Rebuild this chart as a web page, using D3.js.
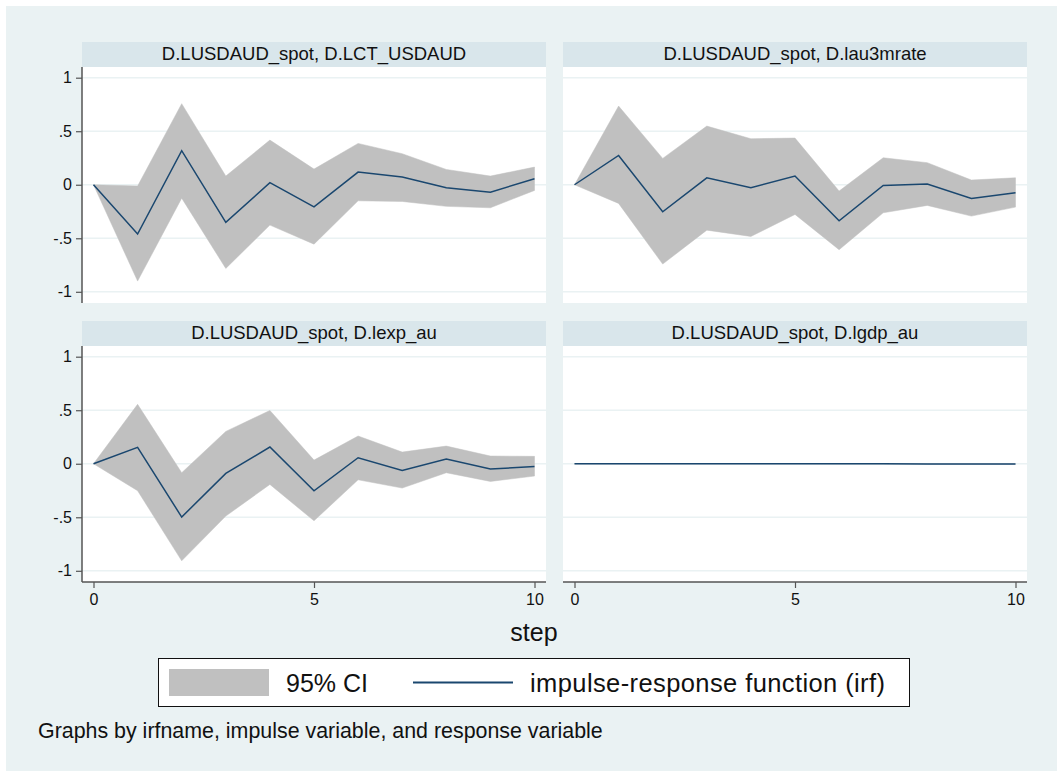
<!DOCTYPE html>
<html>
<head>
<meta charset="utf-8">
<script src="https://cdn.jsdelivr.net/npm/d3@7"></script>
<style>
  html, body { margin: 0; padding: 0; background: #ffffff; }
  svg { display: block; font-family: "Liberation Sans", Arial, Helvetica, sans-serif; }
</style>
</head>
<body>
<svg id="chart" width="1057" height="771"></svg>
<script>
// ---------------- DATA ----------------
const steps = [0, 1, 2, 3, 4, 5, 6, 7, 8, 9, 10];
const panelTitles = [
  "D.LUSDAUD_spot, D.LCT_USDAUD",
  "D.LUSDAUD_spot, D.lau3mrate",
  "D.LUSDAUD_spot, D.lexp_au",
  "D.LUSDAUD_spot, D.lgdp_au"
];
const irfLCT   = [0, -0.46, 0.318, -0.352, 0.019, -0.206, 0.118, 0.072, -0.028, -0.069, 0.056];
const upperLCT = [0, -0.012, 0.757, 0.081, 0.417, 0.146, 0.386, 0.29, 0.143, 0.081, 0.165];
const lowerLCT = [0, -0.90, -0.125, -0.782, -0.377, -0.555, -0.15, -0.156, -0.202, -0.215, -0.053];

const irfRate   = [0, 0.274, -0.252, 0.065, -0.028, 0.081, -0.336, -0.006, 0.006, -0.128, -0.075];
const upperRate = [0, 0.735, 0.246, 0.548, 0.43, 0.436, -0.059, 0.252, 0.206, 0.044, 0.065];
const lowerRate = [0, -0.174, -0.741, -0.424, -0.483, -0.277, -0.607, -0.262, -0.193, -0.293, -0.209];

const irfExp   = [0, 0.153, -0.498, -0.09, 0.156, -0.252, 0.056, -0.062, 0.044, -0.05, -0.025];
const upperExp = [0, 0.555, -0.084, 0.302, 0.498, 0.034, 0.259, 0.109, 0.165, 0.072, 0.069];
const lowerExp = [0, -0.252, -0.907, -0.489, -0.193, -0.533, -0.15, -0.227, -0.084, -0.165, -0.115];

const irfGdp   = [0, 0, 0, 0, 0, 0, -0.001, -0.001, -0.002, -0.002, -0.002];
const upperGdp = [0, 0, 0, 0, 0, 0, -0.001, -0.001, -0.002, -0.002, -0.002];
const lowerGdp = [0, 0, 0, 0, 0, 0, -0.001, -0.001, -0.002, -0.002, -0.002];

const yTickValues = [-1, -0.5, 0, 0.5, 1];
const xTickValues = [0, 5, 10];
const legendLabels = ["95% CI", "impulse-response function (irf)"];
const xTitle = "step";
const note = "Graphs by irfname, impulse variable, and response variable";

// ---------------- LAYOUT ----------------
const svg = d3.select("#chart");
const BG = "#eaf2f3", STRIP = "#d9e6eb", CI = "#c0c0c0", LINE = "#1a476f", AXIS = "#555555";

svg.append("rect").attr("x", 6).attr("y", 6).attr("width", 1051).attr("height", 765).attr("fill", BG);

const panels = [
  { title: panelTitles[0], irf: irfLCT, up: upperLCT, lo: lowerLCT, col: 0, row: 0 },
  { title: panelTitles[1], irf: irfRate, up: upperRate, lo: lowerRate, col: 1, row: 0 },
  { title: panelTitles[2], irf: irfExp, up: upperExp, lo: lowerExp, col: 0, row: 1 },
  { title: panelTitles[3], irf: irfGdp, up: upperGdp, lo: lowerGdp, col: 1, row: 1 }
];
const colLeft = [82, 563], colWidth = 464;
const rowHeaderTop = [42, 321], headerH = 25, plotH = 236;

const fmt = d => d === 0 ? "0" : String(d).replace(/^(-?)0\./, "$1.");

panels.forEach(p => {
  const L = colLeft[p.col];
  const hTop = rowHeaderTop[p.row];
  const pTop = hTop + headerH;
  const g = svg.append("g");

  // header strip
  g.append("rect").attr("x", L).attr("y", hTop).attr("width", colWidth).attr("height", headerH).attr("fill", STRIP);
  g.append("text").attr("x", L + colWidth / 2).attr("y", hTop + 17.5)
    .attr("text-anchor", "middle").attr("font-size", 18.5).attr("fill", "#111")
    .text(p.title);

  // plot region
  g.append("rect").attr("x", L).attr("y", pTop).attr("width", colWidth).attr("height", plotH).attr("fill", "#ffffff");

  const x = d3.scaleLinear().domain([0, 10]).range([L + 11.5, L + 452.5]);
  const y = d3.scaleLinear().domain([-1, 1]).range([pTop + 224.8, pTop + 10.7]);

  // grid lines
  g.selectAll(".grid").data(yTickValues).enter().append("line")
    .attr("x1", L).attr("x2", L + colWidth)
    .attr("y1", d => y(d)).attr("y2", d => y(d))
    .attr("stroke", BG).attr("stroke-width", 1.5);

  const data = steps.map((s, i) => ({ s, irf: p.irf[i], up: p.up[i], lo: p.lo[i] }));

  g.append("path").datum(data)
    .attr("d", d3.area().x(d => x(d.s)).y0(d => y(d.lo)).y1(d => y(d.up)))
    .attr("fill", CI).attr("stroke", CI).attr("stroke-width", 0.5);

  g.append("path").datum(data)
    .attr("d", d3.line().x(d => x(d.s)).y(d => y(d.irf)))
    .attr("fill", "none").attr("stroke", LINE).attr("stroke-width", 1.5);

  if (p.col === 0) {
    const ax = g.append("g").attr("transform", `translate(${L},0)`)
      .call(d3.axisLeft(y).tickValues(yTickValues).tickFormat(fmt).tickSize(6).tickPadding(4).tickSizeOuter(0));
    ax.select(".domain").remove();
    ax.selectAll(".tick line").attr("stroke", AXIS).attr("stroke-width", 1.2);
    ax.selectAll(".tick text").attr("font-size", 16).attr("fill", "#111")
      .attr("font-family", "Liberation Sans, Arial, sans-serif");
    g.append("line").attr("x1", L).attr("x2", L).attr("y1", pTop).attr("y2", pTop + plotH)
      .attr("stroke", AXIS).attr("stroke-width", 1.5);
  }
  if (p.row === 1) {
    const ax = g.append("g").attr("transform", `translate(0,${pTop + plotH})`)
      .call(d3.axisBottom(x).tickValues(xTickValues).tickFormat(d3.format("d")).tickSize(6).tickPadding(6).tickSizeOuter(0));
    ax.select(".domain").remove();
    ax.selectAll(".tick line").attr("stroke", AXIS).attr("stroke-width", 1.2);
    ax.selectAll(".tick text").attr("font-size", 16).attr("fill", "#111")
      .attr("font-family", "Liberation Sans, Arial, sans-serif");
    g.append("line").attr("x1", L).attr("x2", L + colWidth).attr("y1", pTop + plotH).attr("y2", pTop + plotH)
      .attr("stroke", AXIS).attr("stroke-width", 1.5);
  }
});

// x title
svg.append("text").attr("x", 534).attr("y", 641).attr("text-anchor", "middle")
  .attr("font-size", 25).attr("fill", "#111").text(xTitle);

// legend
const lg = svg.append("g");
lg.append("rect").attr("x", 158.5).attr("y", 658.5).attr("width", 751).attr("height", 48)
  .attr("fill", "#ffffff").attr("stroke", "#111").attr("stroke-width", 1);
lg.append("rect").attr("x", 169).attr("y", 669).attr("width", 100).attr("height", 27).attr("fill", CI);
lg.append("text").attr("x", 286).attr("y", 692).attr("font-size", 25).attr("fill", "#111").text(legendLabels[0]);
lg.append("line").attr("x1", 413).attr("x2", 513).attr("y1", 682.5).attr("y2", 682.5)
  .attr("stroke", LINE).attr("stroke-width", 2);
lg.append("text").attr("x", 530).attr("y", 692).attr("font-size", 25.5).attr("fill", "#111")
  .attr("textLength", 355).attr("lengthAdjust", "spacing").text(legendLabels[1]);

// note
svg.append("text").attr("x", 38).attr("y", 738).attr("font-size", 21.4).attr("fill", "#111").text(note);
</script>
</body>
</html>
